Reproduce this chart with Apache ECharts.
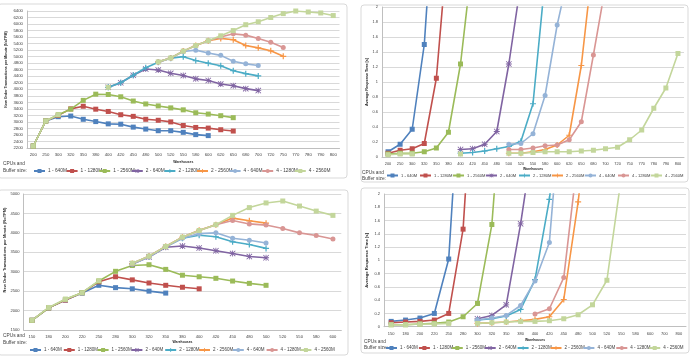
<!DOCTYPE html>
<html><head><meta charset="utf-8">
<script src="https://cdn.jsdelivr.net/npm/echarts@6/dist/echarts.min.js"></script>
<style>html,body{margin:0;padding:0;background:#fff}#c{width:694px;height:356px}</style>
</head><body><div id="c"></div>
<script>
// ---------- categories ----------
const CAT_TOP = ['200','250','300','320','350','380','400','420','450','480','500','520','550','580','600','620','650','680','700','720','750','770','780','790','800'];
const CAT_BL = ['150','180','200','220','250','280','300','320','350','380','400','420','450','480','500','520','550','580','600'];
const CAT_BR = ['150','180','200','220','250','280','300','320','350','380','400','420','450','480','500','520','550','580','600','700','800'];

// ---------- series names ----------
const NAMES = ['1 - 640M','1 - 1280M','1 - 2560M','2 - 640M','2 - 1280M','2 - 2560M','4 - 640M','4 - 1280M','4 - 2560M'];

// ---------- top-left: NoTPM (first category of each list given in START) ----------
const TL_START = ['200','200','200','400','400','500','500','500','200'];
const TL_1_640M  = [2260,3030,3160,3180,3080,3010,2940,2930,2840,2780,2730,2730,2680,2610,2580];
const TL_1_1280M = [2260,3030,3200,3400,3480,3390,3320,3220,3170,3080,3050,3000,2890,2830,2810,2760,2720];
const TL_1_2560M = [2260,3030,3220,3390,3660,3850,3840,3770,3640,3550,3490,3430,3370,3280,3240,3190,3130];
const TL_2_640M  = [4060,4200,4430,4620,4590,4490,4420,4320,4270,4160,4110,4020,3960];
const TL_2_1280M = [4060,4200,4430,4660,4830,4950,5000,4880,4800,4720,4570,4480,4410];
const TL_2_2560M = [4840,4960,5170,5340,5490,5560,5520,5340,5270,5180,5010];
const TL_4_640M  = [4840,4960,5160,5200,5110,5040,4860,4780,4730];
const TL_4_1280M = [4840,4960,5170,5340,5490,5600,5700,5660,5560,5440,5280];
const TL_4_2560M = [2260,3030,3220,null,null,null,4060,null,null,null,4840,4960,5170,5340,5490,5640,5800,5980,6070,6200,6320,6400,6370,6340,6260];

// ---------- top-right: response time [s] ----------
const TR_START = ['200','200','200','400','400','500','500','500','200'];
const TR_1_640M  = [0.07,0.17,0.37,1.5,3.9];
const TR_1_1280M = [0.05,0.09,0.11,0.18,1.05,2.95];
const TR_1_2560M = [0.04,0.05,0.05,0.07,0.12,0.33,1.24,2.65];
const TR_2_640M  = [0.1,0.11,0.17,0.34,1.24,2.33];
const TR_2_1280M = [0.05,0.06,0.08,0.11,0.14,0.21,0.71,2.37];
const TR_2_2560M = [0.05,0.05,0.07,0.1,0.16,0.29,1.22,2.66];
const TR_4_640M  = [0.17,0.18,0.31,0.82,1.76,2.48];
const TR_4_1280M = [0.1,0.1,0.12,0.15,0.16,0.23,0.47,1.36,2.28];
const TR_4_2560M = [0.03,0.04,0.04,null,null,null,0.04,null,null,null,0.05,0.05,0.06,0.07,0.07,0.07,0.08,0.09,0.11,0.13,0.23,0.36,0.65,0.92,1.38];

// ---------- bottom-left: NoTPM ----------
const BL_START = ['150','150','150','300','300','300','300','300','150'];
const BL_1_640M  = [1750,2070,2270,2450,2650,2590,2560,2500,2450];
const BL_1_1280M = [1750,2070,2270,2460,2740,2870,2790,2710,2650,2600,2560];
const BL_1_2560M = [1750,2070,2290,2460,2760,3010,3160,3180,3060,2910,2870,2830,2760,2700,2650];
const BL_2_640M  = [3200,3380,3630,3660,3610,3540,3470,3390,3360];
const BL_2_1280M = [3200,3390,3640,3860,3940,3900,3770,3700,3600];
const BL_2_2560M = [3210,3400,3650,3890,4070,4210,4380,4310,4250];
const BL_4_640M  = [3200,3380,3640,3860,3980,4000,3860,3810,3740];
const BL_4_1280M = [3210,3400,3650,3890,4060,4210,4320,4230,4200,4110,4000,3930,3840];
const BL_4_2560M = [1750,2080,2290,2460,2770,null,3220,3400,3650,3890,4060,4210,4450,4650,4770,4820,4690,4560,4450];

// ---------- bottom-right: response time [s] ----------
const BR_START = ['150','150','150','300','300','300','300','400','150'];
const BR_1_640M  = [0.08,0.1,0.13,0.2,1.02,4.5];
const BR_1_1280M = [0.06,0.07,0.08,0.1,0.2,1.47,4.9];
const BR_1_2560M = [0.03,0.03,0.04,0.05,0.07,0.15,0.35,1.54,4.4];
const BR_2_640M  = [0.12,0.17,0.33,1.55,3.0];
const BR_2_1280M = [0.1,0.12,0.16,0.26,0.71,1.92,3.8];
const BR_2_2560M = [0.05,0.06,0.07,0.09,0.11,0.15,0.41,1.88,3.8];
const BR_4_640M  = [0.1,0.13,0.17,0.32,0.69,1.27,3.9];
const BR_4_1280M = [0.19,0.27,0.74,2.6];
const BR_4_2560M = [0.03,0.03,0.04,0.04,0.05,null,0.05,0.06,0.07,0.08,0.08,0.09,0.12,0.18,0.33,0.70,2.25];

// ---------- style ----------
const COLORS = ['#4F81BD','#C0504D','#9BBB59','#8064A2','#4BACC6','#F79646','#95B3D7','#D99694','#C3D69B'];
const PLUS = 'path://M4,0H6V4H10V6H6V10H4V6H0V4H4Z';
const AST = 'path://M4.3,0H5.7V4.3H10V5.7H5.7V10H4.3V5.7H0V4.3H4.3Z M1,0L5,4L9,0L10,1L6,5L10,9L9,10L5,6L1,10L0,9L4,5L0,1Z';
const SYMBOLS = ['rect','rect','rect',AST,PLUS,PLUS,'circle','circle','rect'];
const SIZES = [5,5,5,6,6,6,5,5,5];
const FONT = 'Liberation Sans, Arial, sans-serif';

const charts = [
  {cats:CAT_TOP, start:TL_START, data:[TL_1_640M,TL_1_1280M,TL_1_2560M,TL_2_640M,TL_2_1280M,TL_2_2560M,TL_4_640M,TL_4_1280M,TL_4_2560M]},
  {cats:CAT_TOP, start:TR_START, data:[TR_1_640M,TR_1_1280M,TR_1_2560M,TR_2_640M,TR_2_1280M,TR_2_2560M,TR_4_640M,TR_4_1280M,TR_4_2560M]},
  {cats:CAT_BL,  start:BL_START, data:[BL_1_640M,BL_1_1280M,BL_1_2560M,BL_2_640M,BL_2_1280M,BL_2_2560M,BL_4_640M,BL_4_1280M,BL_4_2560M]},
  {cats:CAT_BR,  start:BR_START, data:[BR_1_640M,BR_1_1280M,BR_1_2560M,BR_2_640M,BR_2_1280M,BR_2_2560M,BR_4_640M,BR_4_1280M,BR_4_2560M]}
];

function pad(cats, start, vals){
  const out = cats.map(()=>null);
  const i0 = cats.indexOf(start);
  vals.forEach((v,k)=>{ out[i0+k] = v; });
  return out;
}

const layout = [
  {grid:{left:27, top:11, width:312.5, height:137}, y:{min:2200,max:6400,interval:200}, yname:'New Order Transactions per Minute (NoTPM)', yfs:3.6, ygap:19.5, ypad:[0,0,0,20],
   tick:4.3, xm:5, xgap:12.5, nfs:3.4, leg:{x0:33, step:32.6, y:168.5, fs:4.8}, cpu:{x:3, y1:164, y2:171}},
  {grid:{left:382, top:7, width:302, height:150}, y:{min:0,max:2,interval:0.2}, yname:'Average Response Time [s]', yfs:3.7, ygap:12.5, ypad:[0,0,0,0],
   tick:3.9, xm:4.5, xgap:10.5, nfs:3.4, leg:{x0:386, step:33, y:173.5, fs:4.1}, cpu:{x:362, y1:173, y2:179}},
  {grid:{left:23.6, top:194, width:317.7, height:136}, y:{min:1500,max:5000,interval:500}, yname:'New Order Transactions per Minute (NoTPM)', yfs:4, ygap:16, ypad:[0,0,0,24],
   tick:4.1, xm:4.5, xgap:10.5, nfs:3.4, leg:{x0:29, step:33.8, y:347.5, fs:4.5}, cpu:{x:3, y1:336, y2:343}},
  {grid:{left:384, top:194, width:302, height:132.7}, y:{min:0,max:2,interval:0.2}, yname:'Average Response Time [s]', yfs:4.2, ygap:15.5, ypad:[0,0,0,0],
   tick:4, xm:5, xgap:12, nfs:3.4, leg:{x0:385, step:32.9, y:345.5, fs:4.5}, cpu:{x:364, y1:342, y2:348}}
];

const option = {
  backgroundColor:'#ffffff',
  animation:false,
  textStyle:{fontFamily:FONT},
  grid:[], xAxis:[], yAxis:[], series:[], legend:[], graphic:[]
};

// frames
[[-2,4,349,174],[361,5,327,177],[-2,190,350,165],[361,188,328,165]].forEach(r=>{
  option.graphic.push({type:'rect', z:-10, shape:{x:r[0],y:r[1],width:r[2],height:r[3],r:3}, style:{fill:'none', stroke:'#D9D9D9', lineWidth:1}});
});

charts.forEach((c,gi)=>{
  const L = layout[gi];
  option.grid.push(L.grid);
  option.xAxis.push({type:'category', gridIndex:gi, data:c.cats, boundaryGap:true,
    name:'Warehouses', nameLocation:'middle', nameGap:L.xgap,
    nameTextStyle:{fontSize:L.nfs, fontWeight:'bold', color:'#262626', fontFamily:FONT},
    axisLine:{lineStyle:{color:'#BFBFBF'}}, axisTick:{show:false},
    axisLabel:{interval:0, fontSize:L.tick, color:'#404040', margin:L.xm, fontFamily:FONT},
    splitLine:{show:false}});
  option.yAxis.push({type:'value', gridIndex:gi, min:L.y.min, max:L.y.max, interval:L.y.interval,
    name:L.yname, nameLocation:'middle', nameGap:L.ygap,
    nameTextStyle:{fontSize:L.yfs, fontWeight:'bold', color:'#262626', fontFamily:FONT, padding:L.ypad},
    axisLine:{show:true, lineStyle:{color:'#BFBFBF'}}, axisTick:{show:false},
    axisLabel:{fontSize:L.tick, color:'#404040', margin:4, fontFamily:FONT,
      formatter:v=>String(Math.round(v*1000)/1000)},
    splitLine:{lineStyle:{color:'#D9D9D9', width:1}}});
  c.data.forEach((vals,si)=>{
    option.series.push({type:'line', name:NAMES[si], xAxisIndex:gi, yAxisIndex:gi,
      data:pad(c.cats, c.start[si], vals), connectNulls:false, clip:true,
      symbol:SYMBOLS[si], symbolSize:SIZES[si], showSymbol:true, showAllSymbol:true,
      lineStyle:{color:COLORS[si], width:1.6}, itemStyle:{color:COLORS[si]}, z:2+si});
  });
  NAMES.forEach((n,si)=>{
    option.legend.push({data:[n], left:L.leg.x0 + si*L.leg.step, top:L.leg.y, padding:0,
      itemWidth:11, itemHeight:5, itemGap:0, selectedMode:false,
      textStyle:{fontSize:L.leg.fs, color:'#404040', fontFamily:FONT, padding:[0,0,0,-2]}});
  });
  option.graphic.push({type:'text', left:L.cpu.x, top:L.cpu.y1-3, style:{text:'CPUs and', fontSize:4.8, fill:'#404040', fontFamily:FONT}});
  option.graphic.push({type:'text', left:L.cpu.x, top:L.cpu.y2-3, style:{text:'Buffer size:', fontSize:4.8, fill:'#404040', fontFamily:FONT}});
});

const chart = echarts.init(document.getElementById('c'), null, {renderer:'canvas'});
chart.setOption(option);
</script>
</body></html>
